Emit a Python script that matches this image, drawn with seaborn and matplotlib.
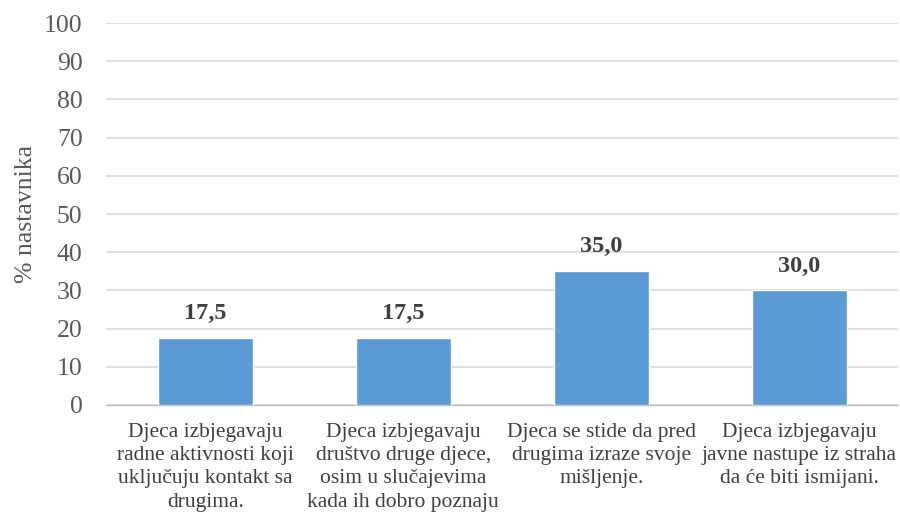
import matplotlib.pyplot as plt
import pandas as pd
import seaborn as sns

categories = [
    "Djeca izbjegavaju\nradne aktivnosti koji\nuključuju kontakt sa\ndrugima.",
    "Djeca izbjegavaju\ndruštvo druge djece,\nosim u slučajevima\nkada ih dobro poznaju",
    "Djeca se stide da pred\ndrugima izraze svoje\nmišljenje.",
    "Djeca izbjegavaju\njavne nastupe iz straha\nda će biti ismijani.",
]
values = [17.5, 17.5, 35.0, 30.0]
y_ticks = [0, 10, 20, 30, 40, 50, 60, 70, 80, 90, 100]

df = pd.DataFrame({"kategorija": categories, "posto": values})

sns.set_style("white")
plt.rcParams["font.family"] = ["Liberation Serif", "DejaVu Serif"]

fig = plt.figure(figsize=(9, 5.12), dpi=100)
ax = fig.add_axes([0.118, 0.209, 0.880, 0.746])

sns.barplot(data=df, x="kategorija", y="posto", color="#5B9BD5", width=0.48,
            edgecolor="white", linewidth=1, saturation=1, ax=ax, zorder=3)

# value labels above bars
for i, v in enumerate(values):
    ax.annotate(f"{v:.1f}".replace(".", ","), (i, v), xytext=(0, 10),
                textcoords="offset points", ha="center", va="bottom",
                fontsize=17.5, fontweight="bold", color="#404040")

ax.set_ylim(0, 100)
ax.set_xlim(-0.5, len(categories) - 0.5)
ax.set_yticks(y_ticks)
ax.yaxis.grid(True, color="#D9D9D9", linewidth=1.2, zorder=0)
ax.set_axisbelow(True)

ax.tick_params(axis="y", length=0, pad=17, labelsize=18.5, labelcolor="#595959")
ax.tick_params(axis="x", which="major", length=0, pad=13, labelsize=15.5, labelcolor="#404040")
ax.set_xticks([x - 0.5 for x in range(len(categories) + 1)], minor=True)
ax.tick_params(axis="x", which="minor", length=6, color="#BFBFBF", width=1)
for lbl in ax.get_xticklabels():
    lbl.set_linespacing(1.3)

for side in ["top", "right", "left"]:
    ax.spines[side].set_visible(False)
ax.spines["bottom"].set_color("#BFBFBF")
ax.spines["bottom"].set_linewidth(1)

ax.set_xlabel("")
ax.set_ylabel("% nastavnika", fontsize=18.5, color="#595959", labelpad=5)

fig.savefig("out.png", dpi=100)
